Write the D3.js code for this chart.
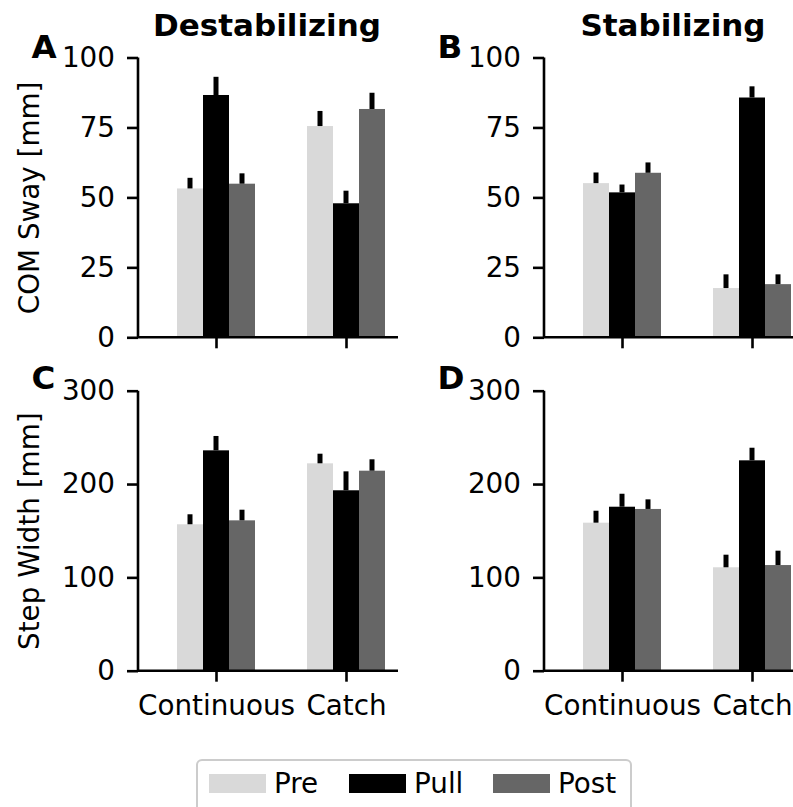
<!DOCTYPE html>
<html>
<head>
<meta charset="utf-8">
<script src="https://cdn.jsdelivr.net/npm/d3@7"></script>
<style>
  html, body { margin: 0; padding: 0; background: #fff; }
  svg { display: block; font-family: "DejaVu Sans", sans-serif; }
</style>
</head>
<body>
<svg id="fig" width="793" height="807"></svg>
<script>
// Conditions on the x axis and the three phases within each condition
const categories = ["Continuous", "Catch"];
const phases = ["Pre", "Pull", "Post"];
const phaseColors = ["#d9d9d9", "#000000", "#666666"];

// COM sway [mm]: means and upper errors, [category][phase]
const swayDestabMean = [[53.2, 86.6, 54.9], [75.5, 47.9, 81.6]];
const swayDestabErr  = [[3.8, 6.5, 3.7], [5.4, 4.5, 5.8]];
const swayStabMean   = [[55.1, 51.8, 58.8], [17.6, 85.7, 19.0]];
const swayStabErr    = [[3.8, 2.8, 3.7], [4.9, 4.0, 3.5]];

// Step width [mm]: means and upper errors, [category][phase]
const widthDestabMean = [[156.9, 236.1, 161.1], [222.2, 193.3, 214.3]];
const widthDestabErr  = [[10.7, 15.4, 11.4], [10.3, 20.3, 12.2]];
const widthStabMean   = [[158.6, 175.7, 173.3], [110.8, 225.4, 113.2]];
const widthStabErr    = [[12.8, 13.9, 10.3], [13.5, 13.5, 15.4]];

const swayTicks = [0, 25, 50, 75, 100];
const widthTicks = [0, 100, 200, 300];

const FS = 27.8;      // regular text size
const svg = d3.select("#fig");

const panels = [
  { letter: "A", title: "Destabilizing", mean: swayDestabMean, err: swayDestabErr,
    ymax: 100, ticks: swayTicks, ylabel: "COM Sway [mm]", left: 138, top: 57.5, bottom: 337.3, xlabels: false },
  { letter: "B", title: "Stabilizing", mean: swayStabMean, err: swayStabErr,
    ymax: 100, ticks: swayTicks, ylabel: null, left: 544, top: 57.5, bottom: 337.3, xlabels: false },
  { letter: "C", title: null, mean: widthDestabMean, err: widthDestabErr,
    ymax: 300, ticks: widthTicks, ylabel: "Step Width [mm]", left: 138, top: 390.7, bottom: 670.7, xlabels: true },
  { letter: "D", title: null, mean: widthStabMean, err: widthStabErr,
    ymax: 300, ticks: widthTicks, ylabel: null, left: 544, top: 390.7, bottom: 670.7, xlabels: true }
];

const axisWidth = 260;
const barW = 0.2;

panels.forEach(p => {
  const x = d3.scaleLinear().domain([-0.6, 1.4]).range([p.left, p.left + axisWidth]);
  const y = d3.scaleLinear().domain([0, p.ymax]).range([p.bottom, p.top]);
  const g = svg.append("g");

  // bars
  categories.forEach((cat, ci) => {
    phases.forEach((ph, pi) => {
      const cx = ci + (pi - 1) * barW;
      const v = p.mean[ci][pi];
      g.append("rect")
        .attr("x", x(cx - barW / 2))
        .attr("width", x(cx + barW / 2) - x(cx - barW / 2))
        .attr("y", y(v))
        .attr("height", y(0) - y(v))
        .attr("fill", phaseColors[pi]);
      // upper error bar
      g.append("line")
        .attr("x1", x(cx)).attr("x2", x(cx))
        .attr("y1", y(v)).attr("y2", y(v + p.err[ci][pi]))
        .attr("stroke", "#000").attr("stroke-width", 5);
    });
  });

  // y axis
  const yAxis = d3.axisLeft(y).tickValues(p.ticks).tickSize(11).tickPadding(12).tickFormat(d3.format("d"));
  const ya = g.append("g").attr("transform", `translate(${p.left},0)`).call(yAxis);
  ya.select(".domain").attr("d", `M-0,${p.top}V${p.bottom}`);
  // x axis
  const xAxis = d3.axisBottom(x).tickValues([0, 1]).tickSize(11).tickPadding(13.5)
    .tickFormat((d, i) => p.xlabels ? categories[i] : "");
  const xa = g.append("g").attr("transform", `translate(0,${p.bottom})`).call(xAxis);
  xa.select(".domain").attr("d", `M${p.left},0H${p.left + axisWidth}`);

  [ya, xa].forEach(a => {
    a.selectAll(".domain").attr("stroke", "#000").attr("stroke-width", 2.6);
    a.selectAll(".tick line").attr("stroke", "#000").attr("stroke-width", 2.6);
    a.selectAll(".tick text").attr("fill", "#000").attr("font-size", FS)
      .attr("font-family", "DejaVu Sans");
  });

  // panel letter
  g.append("text").attr("x", p.left - 106.5).attr("y", p.top + (p.ymax === 100 ? 0 : -2))
    .attr("font-size", 32.5).attr("font-weight", "bold").text(p.letter);

  if (p.title) {
    g.append("text").attr("x", p.left + axisWidth / 2 - 1).attr("y", 35.5)
      .attr("text-anchor", "middle").attr("font-size", 31).attr("font-weight", "bold").text(p.title);
  }
  if (p.ylabel) {
    const cy = (p.top + p.bottom) / 2 + 0.5;
    g.append("text").attr("transform", `translate(38.5,${cy}) rotate(-90)`)
      .attr("text-anchor", "middle").attr("font-size", FS).text(p.ylabel);
  }
});

// legend
const lg = svg.append("g");
lg.append("rect").attr("x", 197).attr("y", 760).attr("width", 434).attr("height", 70)
  .attr("rx", 5).attr("fill", "#fff").attr("stroke", "#cccccc").attr("stroke-width", 2);
const legendX = [209, 349, 493];
phases.forEach((ph, i) => {
  lg.append("rect").attr("x", legendX[i]).attr("y", 774).attr("width", 57).attr("height", 19)
    .attr("fill", phaseColors[i]);
  lg.append("text").attr("x", legendX[i] + 65).attr("y", 793)
    .attr("font-size", FS).text(ph);
});
</script>
</body>
</html>
